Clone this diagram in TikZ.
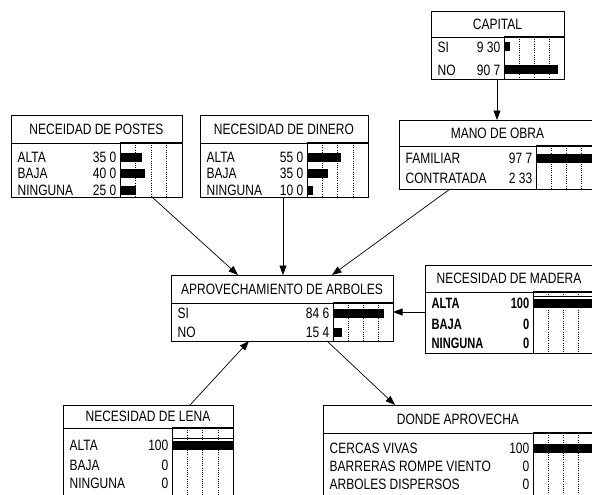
\documentclass[tikz,border=0pt]{standalone}
\usepackage{fontspec}
\setmainfont[FakeStretch=0.8]{Liberation Sans}
\newfontfamily\narrowbold[FakeStretch=0.74]{Liberation Sans}
\usetikzlibrary{arrows.meta,calc}

\tikzset{
  bnframe/.style={draw, line width=0.8pt, inner sep=0pt, outer sep=0pt, anchor=north west},
  bntitle/.style={inner sep=0pt, font=\fontsize{15}{17}\selectfont},
  bnlabel/.style={inner sep=0pt, anchor=west, font=\fontsize{15}{17}\selectfont},
  bnvalue/.style={inner sep=0pt, anchor=east, font=\fontsize{15}{17}\selectfont},
  bngrid/.style={line width=0.5pt, dash pattern=on 1pt off 1.2pt},
  link/.style={draw, line width=0.7pt, -{Triangle[length=9.5pt,width=7pt]}},
}

% name, x1, y1, x2, y2, ysep, xdiv, title
\newcommand{\bnbox}[8]{%
  \node[bnframe, minimum width={(#4-#2)*1pt}, minimum height={(#5-#3)*1pt}] (#1) at (#2,#3) {};
  \node[bntitle] at ({(#2+#4)/2},{(#3+#6)/2}) {#8};
  \draw[line width=0.8pt] (#2,#6) -- (#4,#6);
  \draw[line width=1.6pt] (#7,#6) -- (#4,#6);
  \draw[line width=0.8pt] (#7,#6) -- (#7,#5);
  \foreach \k in {1,2,3} \draw[bngrid] ({#7+\k*(#4-#7)/4},#6) -- ({#7+\k*(#4-#7)/4},#5);
}
% x1, xdiv, x2, y, label, value, percent
\newcommand{\bnrow}[7]{%
  \node[bnlabel] at ({#1+6.5},#4) {#5};
  \node[bnvalue] at ({#2-3.5},#4) {#6};
  \fill ({#2},{#4-4.5}) rectangle ({#2+#7/100*(#3-#2)},{#4+4.5});
}
% finding bar: xdiv, x2, y
\newcommand{\bnfind}[3]{%
  \draw[line width=0.8pt] (#1,{#3-6.5}) -- (#2,{#3-6.5});
  \fill (#1,{#3-4}) rectangle (#2,{#3+5});
}

\begin{document}
\begin{tikzpicture}[x=1pt,y=-1pt]
\useasboundingbox (0,0) rectangle (592,495);
\fill[white] (0,0) rectangle (592,495);
\clip (0,0) rectangle (592,495);

% CAPITAL
\bnbox{cap}{431}{11}{564}{79}{37}{504}{CAPITAL}
\bnrow{431}{504}{564}{47}{SI}{9 30}{9.3}
\bnrow{431}{504}{564}{70}{NO}{90 7}{90.7}

% MANO DE OBRA
\bnbox{man}{399}{120}{596}{189}{146}{536}{MANO DE OBRA}
\bnrow{399}{536}{596}{158}{FAMILIAR}{97 7}{97.7}
\bnrow{399}{536}{596}{178}{CONTRATADA}{2 33}{2.33}

% NECEIDAD DE POSTES
\bnbox{pos}{11}{115}{182}{197}{143}{120}{NECEIDAD DE POSTES}
\bnrow{11}{120}{182}{157}{ALTA}{35 0}{35}
\bnrow{11}{120}{182}{173}{BAJA}{40 0}{40}
\bnrow{11}{120}{182}{190}{NINGUNA}{25 0}{25}

% NECESIDAD DE DINERO
\bnbox{din}{200}{115}{368}{197}{143}{307}{NECESIDAD DE DINERO}
\bnrow{200}{307}{368}{157}{ALTA}{55 0}{55}
\bnrow{200}{307}{368}{173}{BAJA}{35 0}{35}
\bnrow{200}{307}{368}{190}{NINGUNA}{10 0}{10}

% APROVECHAMIENTO DE ARBOLES
\bnbox{apr}{171}{275}{393}{341}{303}{333}{APROVECHAMIENTO DE ARBOLES}
\bnrow{171}{333}{393}{313}{SI}{84 6}{84.6}
\bnrow{171}{333}{393}{332}{NO}{15 4}{15.4}

% NECESIDAD DE MADERA
\bnbox{mad}{425}{265}{593}{353}{292}{533}{NECESIDAD DE MADERA}
\bnrow{425}{533}{593}{303}{\narrowbold\bfseries ALTA}{\narrowbold\bfseries 100}{0}
\bnfind{533}{593}{303}
\bnrow{425}{533}{593}{324}{\narrowbold\bfseries BAJA}{\narrowbold\bfseries 0}{0}
\bnrow{425}{533}{593}{343}{\narrowbold\bfseries NINGUNA}{\narrowbold\bfseries 0}{0}

% NECESIDAD DE LENA
\bnbox{len}{63}{405}{233}{505}{428}{172}{NECESIDAD DE LENA}
\bnrow{63}{172}{233}{445}{ALTA}{100}{0}
\bnfind{172}{233}{445}
\bnrow{63}{172}{233}{465}{BAJA}{0}{0}
\bnrow{63}{172}{233}{483}{NINGUNA}{0}{0}

% DONDE APROVECHA
\bnbox{don}{323}{405}{593}{505}{433}{533}{DONDE APROVECHA}
\bnrow{323}{533}{593}{448}{CERCAS VIVAS}{100}{100}
\bnrow{323}{533}{593}{466}{BARRERAS ROMPE VIENTO}{0}{0}
\bnrow{323}{533}{593}{484}{ARBOLES DISPERSOS}{0}{0}

% connectors
\draw[link] ([xshift=66pt]cap.south west) -- ([xshift=98pt]man.north west);
\draw[link] ([xshift=141pt]pos.south west) -- ([xshift=67pt]apr.north west);
\draw[link] ([xshift=83pt]din.south west) -- ([xshift=112pt]apr.north west);
\draw[link] ([xshift=51pt]man.south west) -- ([xshift=161pt]apr.north west);
\draw[link] ([yshift=-47pt]mad.north west) -- ([yshift=-37pt]apr.north east);
\draw[link] ([xshift=127pt]len.north west) -- ([xshift=78pt]apr.south west);
\draw[link] ([xshift=156pt]apr.south west) -- ([xshift=72pt]don.north west);
\end{tikzpicture}
\end{document}
